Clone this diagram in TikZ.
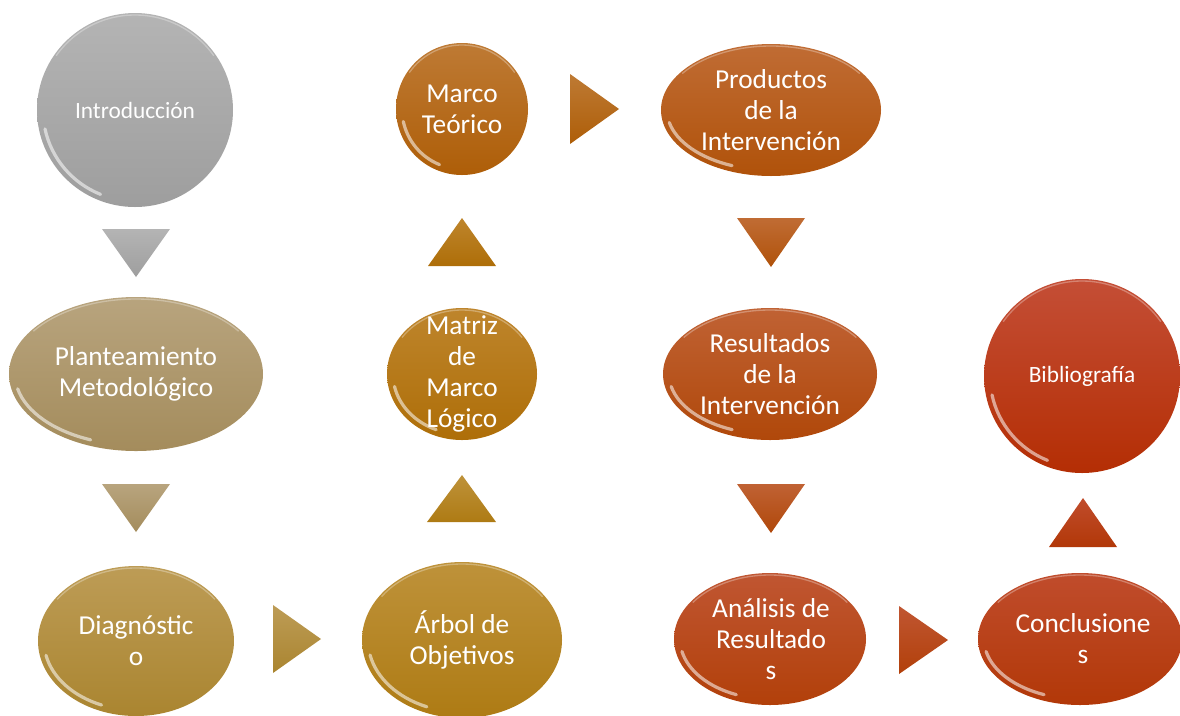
\documentclass[tikz,border=0pt]{standalone}
\usepackage{fontspec}
\setmainfont{Carlito}
\usetikzlibrary{shapes.geometric}
\definecolor{c1t}{HTML}{B4B4B4}\definecolor{c1b}{HTML}{9E9E9E}
\definecolor{c2t}{HTML}{B8A47E}\definecolor{c2b}{HTML}{A48C5C}
\definecolor{c3t}{HTML}{BD9C56}\definecolor{c3b}{HTML}{AA8530}
\definecolor{c4t}{HTML}{BE923A}\definecolor{c4b}{HTML}{AE7B14}
\definecolor{c5t}{HTML}{BE852C}\definecolor{c5b}{HTML}{AE6E08}
\definecolor{c6t}{HTML}{BE7A34}\definecolor{c6b}{HTML}{AE5E08}
\definecolor{c7t}{HTML}{C06C34}\definecolor{c7b}{HTML}{B0520A}
\definecolor{c8t}{HTML}{C06234}\definecolor{c8b}{HTML}{B0480A}
\definecolor{c9t}{HTML}{C05632}\definecolor{c9b}{HTML}{B2400A}
\definecolor{c10t}{HTML}{C04C2C}\definecolor{c10b}{HTML}{B23808}
\definecolor{c11t}{HTML}{C44E36}\definecolor{c11b}{HTML}{B42E04}
\tikzset{
  ball/.style 2 args={ellipse, inner sep=0pt, draw=none, minimum width=#1*0.75pt, minimum height=#2*0.75pt},
  big/.style={text=white, align=center, font=\fontsize{20.5}{23.3}\selectfont, inner sep=0pt},
  small/.style={text=white, align=center, font=\fontsize{17.5}{21}\selectfont, inner sep=0pt},
  gloss/.style={draw=white, opacity=0.55, line width=2.4pt, line cap=round},
  rim/.style={draw=white, opacity=0.3, line width=1pt, line cap=round},
}
\newcommand{\shine}[3]{%
  \path[gloss] (#1.center) ++(112:#2-6 and #3-6) arc[start angle=112, end angle=168, x radius=#2-6, y radius=#3-6];
  \path[rim] (#1.center) ++(215:#2-2 and #3-2) arc[start angle=215, end angle=325, x radius=#2-2, y radius=#3-2];
}
\begin{document}
\begin{tikzpicture}[x=0.75pt, y=-0.75pt]
\useasboundingbox (0,0) rectangle (1180,715);

% ellipses
\node[ball={196}{194}, top color=c1t, bottom color=c1b] (intro) at (135,110) {};
\node[ball={254}{154}, top color=c2t, bottom color=c2b] (plan) at (136,374) {};
\node[ball={196}{150}, top color=c3t, bottom color=c3b] (diag) at (136,641) {};
\node[ball={200}{156}, top color=c4t, bottom color=c4b] (arbol) at (462,640) {};
\node[ball={150}{132}, top color=c5t, bottom color=c5b] (matriz) at (462,374) {};
\node[ball={132}{132}, top color=c6t, bottom color=c6b] (marco) at (462,109) {};
\node[ball={220}{132}, top color=c7t, bottom color=c7b] (prod) at (771,110) {};
\node[ball={214}{132}, top color=c8t, bottom color=c8b] (result) at (770,374) {};
\node[ball={192}{132}, top color=c9t, bottom color=c9b] (anal) at (770,639) {};
\node[ball={204}{132}, top color=c10t, bottom color=c10b] (concl) at (1080,639) {};
\node[ball={196}{194}, top color=c11t, bottom color=c11b] (biblio) at (1082,376) {};

% gloss
\shine{intro}{98}{97}
\shine{plan}{127}{77}
\shine{diag}{98}{75}
\shine{arbol}{100}{78}
\shine{matriz}{75}{66}
\shine{marco}{66}{66}
\shine{prod}{110}{66}
\shine{result}{107}{66}
\shine{anal}{96}{66}
\shine{concl}{102}{66}
\shine{biblio}{98}{97}

% labels
\node[small] at (intro) {Introducción};
\node[big] at (plan) {Planteamiento\\Metodológico};
\node[big] at (diag) {Diagnóstic\\o};
\node[big] at (arbol) {Árbol de\\Objetivos};
\node[big] at (matriz) {Matriz\\de\\Marco\\Lógico};
\node[big] at (marco) {Marco\\Teórico};
\node[big] at (prod) {Productos\\de la\\Intervención};
\node[big] at (result) {Resultados\\de la\\Intervención};
\node[big] at ([xshift=1*0.75pt]anal) {Análisis de\\Resultado\\s};
\node[big] at ([xshift=3*0.75pt]concl) {Conclusione\\s};
\node[small] at (biblio) {Bibliografía};

% arrow triangles
\shade[top color=c1t, bottom color=c1b] (102,229) -- (170,229) -- (136,277) -- cycle;
\shade[top color=c2t, bottom color=c2b] (102,484) -- (170,484) -- (136,532) -- cycle;
\shade[top color=c3t, bottom color=c3b] (273,605) -- (321,639) -- (273,673) -- cycle;
\shade[top color=c4t, bottom color=c4b] (427,522) -- (462,475) -- (496,522) -- cycle;
\shade[top color=c5t, bottom color=c5b] (428,266) -- (462,218) -- (496,266) -- cycle;
\shade[top color=c6t, bottom color=c6b] (570,74) -- (619,109) -- (570,144) -- cycle;
\shade[top color=c7t, bottom color=c7b] (737,218) -- (805,218) -- (771,267) -- cycle;
\shade[top color=c8t, bottom color=c8b] (737,484) -- (805,484) -- (771,533) -- cycle;
\shade[top color=c9t, bottom color=c9b] (899,606) -- (948,640) -- (899,674) -- cycle;
\shade[top color=c10t, bottom color=c10b] (1049,547) -- (1083,498) -- (1117,547) -- cycle;
\end{tikzpicture}
\end{document}
